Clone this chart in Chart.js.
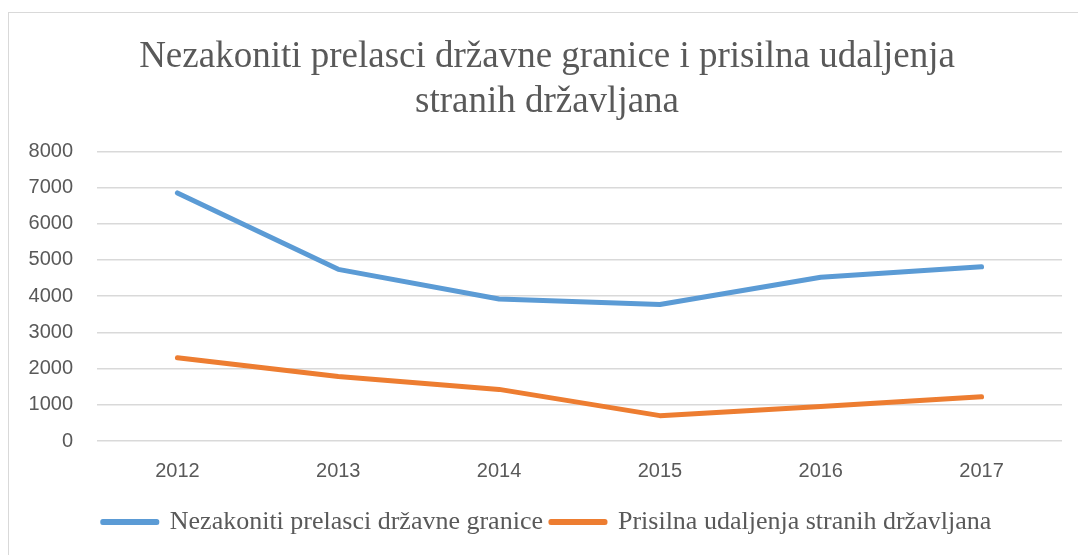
<!DOCTYPE html>
<html>
<head>
<meta charset="utf-8">
<script src="https://cdn.jsdelivr.net/npm/chart.js@4"></script>
<style>
  html, body { margin: 0; padding: 0; background: #fff; }
  body { width: 1078px; height: 555px; position: relative; overflow: hidden; }
  #frame { position: absolute; left: 8px; top: 12px; width: 1100px; height: 600px; border: 1px solid #d9d9d9; }
  #wrap { position: absolute; left: 0; top: 0; width: 1110px; height: 555px; }
</style>
</head>
<body>
<div id="frame"></div>
<div id="wrap"><canvas id="lineChart"></canvas></div>
<script>
const years = ['2012', '2013', '2014', '2015', '2016', '2017'];
const illegalCrossings = [6850, 4740, 3920, 3770, 4520, 4810];
const forcedRemovals = [2300, 1780, 1425, 700, 950, 1220];
const seriesNames = ['Nezakoniti prelasci državne granice', 'Prisilna udaljenja stranih državljana'];
const titleLines = ['Nezakoniti prelasci državne granice i prisilna udaljenja', 'stranih državljana'];

const grey = '#595959';

new Chart(document.getElementById('lineChart'), {
    type: 'line',
    data: {
        labels: years,
        datasets: [{
            label: seriesNames[0],
            data: illegalCrossings,
            borderColor: '#5b9bd5',
            backgroundColor: '#5b9bd5',
            borderWidth: 5,
            borderCapStyle: 'round',
            borderJoinStyle: 'round',
            pointRadius: 0,
            tension: 0
        }, {
            label: seriesNames[1],
            data: forcedRemovals,
            borderColor: '#ed7d31',
            backgroundColor: '#ed7d31',
            borderWidth: 5,
            borderCapStyle: 'round',
            borderJoinStyle: 'round',
            pointRadius: 0,
            tension: 0
        }]
    },
    options: {
        responsive: true,
        maintainAspectRatio: false,
        animation: false,
        layout: { padding: { left: 0, right: 16, top: 12, bottom: 10 } },
        plugins: {
            title: {
                display: true,
                text: titleLines,
                color: grey,
                font: { family: 'Liberation Serif', size: 37, weight: 'normal', lineHeight: 1.22 },
                padding: { top: 23, bottom: 26 }
            },
            legend: {
                position: 'bottom',
                labels: {
                    color: grey,
                    font: { family: 'Liberation Serif', size: 26 },
                    boxWidth: 54,
                    boxHeight: 1,
                    padding: 8
                }
            },
            tooltip: { enabled: false }
        },
        scales: {
            x: {
                offset: true,
                grid: { display: false, drawTicks: false },
                border: { display: false },
                ticks: { color: grey, font: { family: 'Liberation Sans', size: 20 }, padding: 18 }
            },
            y: {
                min: 0,
                max: 8000,
                ticks: {
                    stepSize: 1000,
                    color: grey,
                    font: { family: 'Liberation Sans', size: 20 },
                    padding: 24,
                    callback: (v) => String(v)
                },
                grid: { color: '#d9d9d9', lineWidth: 1.5, drawTicks: false },
                border: { display: false },
                afterFit: (s) => { s.width = 97; }
            },
            // empty right-hand spacer so the title and legend centre like the original
            spacer: {
                position: 'right',
                grid: { display: false, drawTicks: false },
                border: { display: false },
                ticks: { display: false },
                afterFit: (s) => { s.width = 32; }
            }
        }
    }
});
</script>
</body>
</html>
